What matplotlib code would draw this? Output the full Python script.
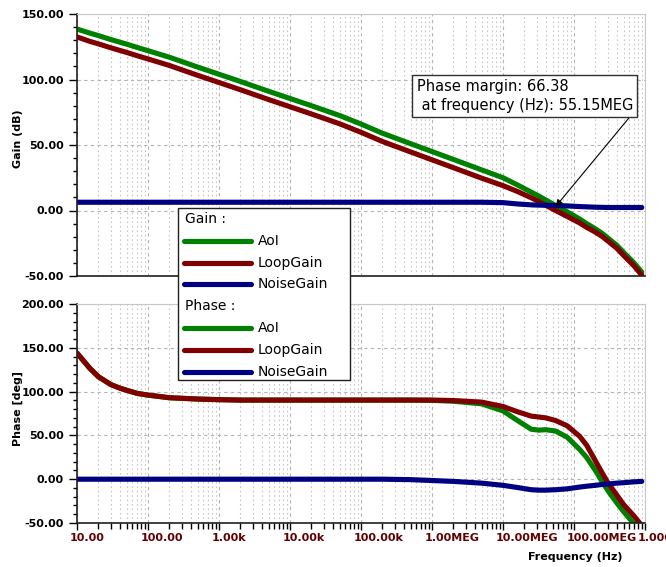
import matplotlib
matplotlib.use("Agg")
import matplotlib.pyplot as plt
import matplotlib.transforms as mtransforms
import numpy as np
from matplotlib.ticker import FixedLocator, LogLocator, AutoMinorLocator, NullFormatter
from matplotlib.lines import Line2D
from matplotlib.patches import Rectangle

# data (frequency in Hz)
freq = [10, 15, 20, 30, 40, 50, 70, 100, 200, 500, 1e3, 2e3, 5e3, 1e4, 2e4, 5e4, 1e5, 2e5, 5e5,
        1e6, 2e6, 5e6, 1e7, 1.6e7, 2.5e7, 3.2e7, 4e7, 5.5e7, 8e7, 1.2e8, 1.5e8, 2e8, 2.5e8, 3e8,
        4e8, 5e8, 7e8, 9e8]

gain_aol = [138.5, 135.5, 133.5, 130.5, 128.5, 127, 124.5, 122, 117, 109.5, 104, 98.5, 91, 85.5,
            80, 72.5, 66, 59, 51, 45, 39, 31, 25, 19.5, 14, 11, 8, 3.8, -1, -6.5, -10, -14, -17.5,
            -21, -26.5, -32, -40, -47]
gain_loop = [132.5, 129.2, 127.2, 124.2, 122.2, 120.7, 118.2, 115.7, 110.7, 103.2, 97.7, 92.2,
             84.7, 79.2, 73.7, 66.2, 59.7, 52.7, 44.7, 38.7, 32.7, 24.7, 19, 14.5, 9.7, 6.9, 4, 0,
             -4.5, -9.5, -12.8, -16.5, -19.9, -23.3, -28.8, -34.3, -42.3, -49.3]
gain_noise = [6.3, 6.3, 6.3, 6.3, 6.3, 6.3, 6.3, 6.3, 6.3, 6.3, 6.3, 6.3, 6.3, 6.3, 6.3, 6.3,
              6.3, 6.3, 6.3, 6.3, 6.3, 6.3, 6.0, 5.0, 4.3, 4.1, 4.0, 3.8, 3.5, 3.0, 2.8, 2.5,
              2.4, 2.3, 2.3, 2.3, 2.3, 2.3]

phase_aol = [144, 127, 117, 108, 104, 101.5, 98, 96, 93, 91.5, 90.8, 90.3, 90.3, 90.3, 90.3, 90.3,
             90.3, 90.3, 90.3, 90, 89, 86, 78, 67, 57, 56, 56.5, 55, 48, 34, 25, 10, -3, -13,
             -27, -37, -51, -58]
phase_loop = [144, 127, 117, 108, 104, 101.5, 98, 96, 93, 91.5, 90.8, 90.3, 90.3, 90.3, 90.3, 90.3,
              90.3, 90.3, 90.3, 90.3, 89.8, 88, 83, 77, 72, 71, 70, 67, 61, 49, 39, 21, 7, -4,
              -18, -29, -42, -53]
phase_noise = [0, 0, 0, 0, 0, 0, 0, 0, 0, 0, 0, 0, 0, 0, 0, 0, 0, 0, -0.5, -1.5, -2.5, -4.5, -7,
               -9.5, -12, -12.5, -12.5, -12, -11, -9, -8, -7, -6, -5.5, -4.5, -4, -3, -2.5]

xticks = [10, 100, 1e3, 1e4, 1e5, 1e6, 1e7, 1e8, 1e9]
xtick_labels = ["10.00", "100.00", "1.00k", "10.00k", "100.00k", "1.00MEG", "10.00MEG", "100.00MEG", "1.00G"]
gain_ticks = [-50, 0, 50, 100, 150]
phase_ticks = [-50, 0, 50, 100, 150, 200]

green = "#008000"
red = "#800000"
blue = "#000080"
lw = 3.7

fig = plt.figure(figsize=(6.66, 5.67), dpi=100)
ax1 = fig.add_axes([77/666, 1-276/567, 568/666, 262/567])
ax2 = fig.add_axes([77/666, 1-523/567, 568/666, 219/567])


def style(ax, yticks):
    ax.set_xscale("log")
    ax.set_xlim(10, 1e9)
    ax.set_ylim(yticks[0], yticks[-1])
    ax.xaxis.set_major_locator(FixedLocator(xticks))
    ax.xaxis.set_minor_locator(LogLocator(base=10, subs=np.arange(2, 10)))
    ax.xaxis.set_minor_formatter(NullFormatter())
    ax.set_yticks(yticks)
    ax.set_yticklabels(["%.2f" % v for v in yticks])
    ax.yaxis.set_minor_locator(AutoMinorLocator(5))
    ax.grid(True, which="major", color="#b4b4b4", linestyle=(0, (3, 3)), linewidth=0.8)
    ax.grid(True, which="minor", axis="x", color="#c8c8c8", linestyle=(0, (1.5, 2.5)), linewidth=0.8)
    for s in ["top", "right"]:
        ax.spines[s].set_color("#c8c8c8")
    for s in ["left", "bottom"]:
        ax.spines[s].set_color("#202020")
        ax.spines[s].set_linewidth(1.2)
    ax.tick_params(axis="y", which="major", length=6, width=1, labelsize=8)
    ax.tick_params(axis="y", which="minor", length=3, width=1)
    for t in ax.get_yticklabels():
        t.set_fontweight("bold")


style(ax1, gain_ticks)
style(ax2, phase_ticks)

ax1.tick_params(axis="x", which="both", length=0, labelbottom=False)
ax2.tick_params(axis="x", which="major", length=5, width=1, labelsize=8, labelcolor="#600000", pad=2)
ax2.tick_params(axis="x", which="minor", length=4, width=1)
ax2.set_xticklabels(xtick_labels)

# labels start just left of their tick, as in the reference
shift = mtransforms.ScaledTranslation(-7/100, 0, fig.dpi_scale_trans)
for tick in ax2.xaxis.get_major_ticks():
    lab = tick.label1
    lab.set_fontweight("bold")
    lab.set_horizontalalignment("left")
    lab.set_transform(lab.get_transform() + shift)

ax1.plot(freq, gain_aol, color=green, lw=lw, solid_capstyle="round")
ax1.plot(freq, gain_loop, color=red, lw=lw, solid_capstyle="round")
ax1.plot(freq, gain_noise, color=blue, lw=lw, solid_capstyle="round")

ax2.plot(freq, phase_aol, color=green, lw=lw, solid_capstyle="round")
ax2.plot(freq, phase_loop, color=red, lw=lw, solid_capstyle="round")
ax2.plot(freq, phase_noise, color=blue, lw=lw, solid_capstyle="round")

fig.text(18/666, 1-139/567, "Gain (dB)", rotation=90, ha="center", va="center",
         fontsize=8, fontweight="bold")
fig.text(18/666, 1-409/567, "Phase [deg]", rotation=90, ha="center", va="center",
         fontsize=8, fontweight="bold")
fig.text(575/666, 1-557/567, "Frequency (Hz)", ha="center", va="center",
         fontsize=8, fontweight="bold")

# phase margin annotation
ax1.annotate("Phase margin: 66.38\n at frequency (Hz): 55.15MEG",
             xy=(55.15e6, 3), xycoords="data",
             xytext=(633/666, 1-113/567), textcoords="figure fraction",
             ha="right", va="bottom", multialignment="left", fontsize=10.5, linespacing=1.3,
             bbox=dict(boxstyle="square,pad=0.3", fc="white", ec="#303030", lw=1),
             arrowprops=dict(arrowstyle="-|>", color="black", lw=0.8, mutation_scale=10,
                             relpos=(1, 0), shrinkA=0, shrinkB=0))

# legend drawn over both panels
fig.patches.append(Rectangle((178/666, 1-380/567), 172/666, 172/567, transform=fig.transFigure,
                             facecolor="white", edgecolor="#202020", lw=1, zorder=5))
rows = [("Gain :", None), ("AoI", green), ("LoopGain", red), ("NoiseGain", blue),
        ("Phase :", None), ("AoI", green), ("LoopGain", red), ("NoiseGain", blue)]
for i, (label, c) in enumerate(rows):
    y = 1 - (219 + i * 21.8) / 567
    if c is None:
        fig.text(185/666, y, label, fontsize=10, va="center", ha="left", zorder=6)
    else:
        fig.lines.append(Line2D([184/666, 251/666], [y, y], transform=fig.transFigure,
                                color=c, lw=lw, solid_capstyle="round", zorder=6))
        fig.text(258/666, y, label, fontsize=10, va="center", ha="left", zorder=6)

fig.savefig("out.png", dpi=100)
